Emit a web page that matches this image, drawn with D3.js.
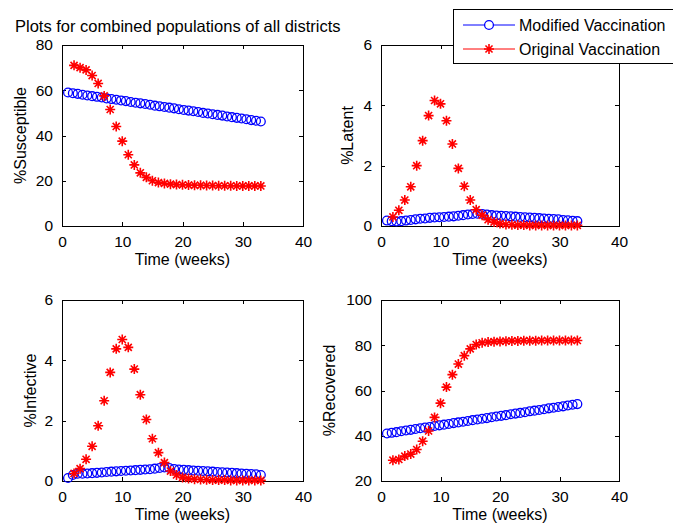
<!DOCTYPE html>
<html>
<head>
<meta charset="utf-8">
<script src="https://cdn.jsdelivr.net/npm/d3@7"></script>
<style>
  html, body { margin: 0; padding: 0; background: #fff; }
  svg { display: block; font-family: "Liberation Sans", Arial, Helvetica, sans-serif; }
</style>
</head>
<body>
<svg id="chart" width="673" height="527"></svg>
<script>
// ---------------- DATA ----------------
const title = "Plots for combined populations of all districts";
const seriesNames = ["Modified Vaccination", "Original Vaccination"];
const xLabel = "Time (weeks)";
const xTicks = [0, 10, 20, 30, 40];

// Modified vaccination (blue circles) sample times
const modWeeks = [1,1.8,2.6,3.4,4.2,5,5.8,6.6,7.4,8.2,9,9.8,10.6,11.4,12.2,13,13.8,14.6,15.4,16.2,17,17.8,18.6,19.4,20.2,21,21.8,22.6,23.4,24.2,25,25.8,26.6,27.4,28.2,29,29.8,30.6,31.4,32.2,33];
// Original vaccination (red stars) sample times
const origWeeks = [2,3,4,5,6,7,8,9,10,11,12,13,14,15,16,17,18,19,20,21,22,23,24,25,26,27,28,29,30,31,32,33];

const modSusceptible = [59,58.7,58.4,58.0,57.7,57.4,57.1,56.8,56.4,56.1,55.8,55.5,55.2,54.8,54.5,54.2,53.9,53.6,53.2,52.9,52.6,52.3,52.0,51.6,51.3,51.0,50.7,50.4,50.0,49.7,49.4,49.1,48.8,48.4,48.1,47.8,47.5,47.2,46.8,46.5,46.2];
const origSusceptible = [71,70,69,66.5,63,57.5,51.5,44,37.5,31.5,27,23.5,21.5,20,19.2,18.8,18.5,18.3,18.2,18.1,18,18,17.9,17.9,17.8,17.8,17.8,17.7,17.7,17.7,17.7,17.7];

const modLatent = [0.18,0.16,0.15,0.16,0.18,0.2,0.22,0.24,0.25,0.27,0.28,0.29,0.3,0.31,0.32,0.34,0.36,0.38,0.4,0.41,0.4,0.38,0.36,0.35,0.34,0.33,0.32,0.31,0.3,0.29,0.28,0.27,0.26,0.25,0.24,0.23,0.22,0.2,0.19,0.17,0.16];
const origLatent = [0.3,0.52,0.86,1.3,2.0,2.83,3.66,4.16,4.05,3.49,2.72,1.91,1.32,0.86,0.54,0.36,0.21,0.13,0.08,0.05,0.04,0.03,0.03,0.02,0.02,0.02,0.02,0.02,0.02,0.02,0.02,0.02];

const modInfective = [0.1,0.2,0.24,0.24,0.25,0.26,0.27,0.28,0.3,0.31,0.32,0.33,0.34,0.35,0.36,0.37,0.38,0.39,0.41,0.43,0.45,0.43,0.4,0.38,0.37,0.36,0.35,0.34,0.33,0.32,0.31,0.3,0.29,0.28,0.27,0.26,0.25,0.24,0.23,0.22,0.2];
const origInfective = [0.25,0.41,0.72,1.15,1.83,2.66,3.6,4.38,4.69,4.43,3.71,2.86,2.04,1.4,0.94,0.61,0.33,0.2,0.12,0.08,0.06,0.05,0.04,0.03,0.03,0.03,0.02,0.02,0.02,0.02,0.02,0.02];

const modRecovered = [41,41.3,41.6,42.0,42.3,42.6,43.0,43.3,43.6,43.9,44.3,44.6,44.9,45.2,45.6,45.9,46.2,46.5,46.9,47.2,47.5,47.8,48.2,48.5,48.8,49.1,49.5,49.8,50.1,50.4,50.8,51.1,51.4,51.7,52.1,52.4,52.7,53.0,53.4,53.7,54.0];
const origRecovered = [29.2,29.5,31,31.9,33.9,37.6,42.1,48.1,54.4,61.5,67,71.7,75.4,78.4,80.3,81.1,81.4,81.6,81.7,81.8,81.9,81.9,82,82,82,82.1,82.1,82.1,82.1,82.1,82.1,82.1];

const yLabels = ["%Susceptible", "%Latent", "%Infective", "%Recovered"];
const yTicksS = [0, 20, 40, 60, 80];
const yTicksL = [0, 2, 4, 6];
const yTicksI = [0, 2, 4, 6];
const yTicksR = [20, 40, 60, 80, 100];

// ---------------- LAYOUT ----------------
const BLUE = "#0000ff", RED = "#ff0000";
const svg = d3.select("#chart");

const panels = [
  { box: [62, 303, 45, 226], ylab: yLabels[0], ylabX: 20, ticks: yTicksS, mod: modSusceptible, orig: origSusceptible },
  { box: [381, 619, 45, 226], ylab: yLabels[1], ylabX: 347, ticks: yTicksL, mod: modLatent, orig: origLatent },
  { box: [62, 303, 300, 481], ylab: yLabels[2], ylabX: 30, ticks: yTicksI, mod: modInfective, orig: origInfective },
  { box: [381, 619, 300, 481], ylab: yLabels[3], ylabX: 329, ticks: yTicksR, mod: modRecovered, orig: origRecovered }
];

const CR = 4.4;   // circle radius
const SR = 5.0;   // star arm length

function starPath(r) {
  const d = r * Math.SQRT1_2;
  return `M${-r},0L${r},0M0,${-r}L0,${r}M${-d},${-d}L${d},${d}M${-d},${d}L${d},${-d}`;
}

svg.append("text")
  .attr("x", 15).attr("y", 32)
  .attr("font-size", 16.5)
  .attr("fill", "#000")
  .text(title);

panels.forEach(p => {
  const [x0, x1, y0, y1] = p.box;
  const x = d3.scaleLinear().domain([xTicks[0], xTicks[xTicks.length - 1]]).range([x0, x1]);
  const y = d3.scaleLinear().domain([p.ticks[0], p.ticks[p.ticks.length - 1]]).range([y1, y0]);
  const g = svg.append("g");

  // box
  g.append("rect").attr("x", x0).attr("y", y0).attr("width", x1 - x0).attr("height", y1 - y0)
    .attr("fill", "#fff").attr("stroke", "#000").attr("stroke-width", 1).attr("shape-rendering", "crispEdges");

  // axes with inward ticks
  const tl = 4;
  const axB = g.append("g").attr("transform", `translate(0,${y1})`)
    .call(d3.axisBottom(x).tickValues(xTicks).tickSize(-tl).tickPadding(tl + 6).tickFormat(d3.format("d")));
  const axT = g.append("g").attr("transform", `translate(0,${y0})`)
    .call(d3.axisTop(x).tickValues(xTicks).tickSize(-tl).tickFormat(""));
  const axL = g.append("g").attr("transform", `translate(${x0},0)`)
    .call(d3.axisLeft(y).tickValues(p.ticks).tickSize(-tl).tickPadding(tl + 5).tickFormat(d3.format("d")));
  const axR = g.append("g").attr("transform", `translate(${x1},0)`)
    .call(d3.axisRight(y).tickValues(p.ticks).tickSize(-tl).tickFormat(""));
  [axB, axT, axL, axR].forEach(a => {
    a.select(".domain").remove();
    a.selectAll("line").attr("stroke", "#000").attr("shape-rendering", "crispEdges");
    a.selectAll("text").attr("font-size", 15.5).attr("fill", "#000")
      .attr("font-family", '"Liberation Sans", Arial, sans-serif');
  });

  // markers - blue circles
  g.append("g").selectAll("circle").data(p.mod).join("circle")
    .attr("cx", (d, i) => x(modWeeks[i])).attr("cy", d => y(d)).attr("r", CR)
    .attr("fill", "none").attr("stroke", BLUE).attr("stroke-width", 1.3);
  // red stars
  g.append("g").selectAll("path").data(p.orig).join("path")
    .attr("transform", (d, i) => `translate(${x(origWeeks[i])},${y(d)})`)
    .attr("d", starPath(SR)).attr("fill", "none").attr("stroke", RED).attr("stroke-width", 1.6);

  // labels
  svg.append("text").attr("x", (x0 + x1) / 2).attr("y", y1 + 39)
    .attr("text-anchor", "middle").attr("font-size", 16).attr("fill", "#000").text(xLabel);
  svg.append("text").attr("transform", `translate(${p.ylabX},${(y0 + y1) / 2}) rotate(-90)`)
    .attr("text-anchor", "middle").attr("dy", "0.35em").attr("font-size", 16).attr("fill", "#000").text(p.ylab);
});

// legend
const lg = svg.append("g");
lg.append("rect").attr("x", 453).attr("y", 9).attr("width", 240).attr("height", 54)
  .attr("fill", "#fff").attr("stroke", "#000").attr("stroke-width", 1).attr("shape-rendering", "crispEdges");
const legendItems = [
  { name: seriesNames[0], color: BLUE, kind: "circle", y: 25 },
  { name: seriesNames[1], color: RED, kind: "star", y: 49 }
];
legendItems.forEach(it => {
  lg.append("line").attr("x1", 463).attr("x2", 515).attr("y1", it.y).attr("y2", it.y)
    .attr("stroke", it.color).attr("stroke-width", 1);
  if (it.kind === "circle") {
    lg.append("circle").attr("cx", 489).attr("cy", it.y).attr("r", CR)
      .attr("fill", "#fff").attr("stroke", it.color).attr("stroke-width", 1.3);
  } else {
    lg.append("path").attr("transform", `translate(489,${it.y})`).attr("d", starPath(SR))
      .attr("fill", "none").attr("stroke", it.color).attr("stroke-width", 1.6);
  }
  lg.append("text").attr("x", 519).attr("y", it.y + 5.8).attr("font-size", 16).attr("fill", "#000").text(it.name);
});
</script>
</body>
</html>
